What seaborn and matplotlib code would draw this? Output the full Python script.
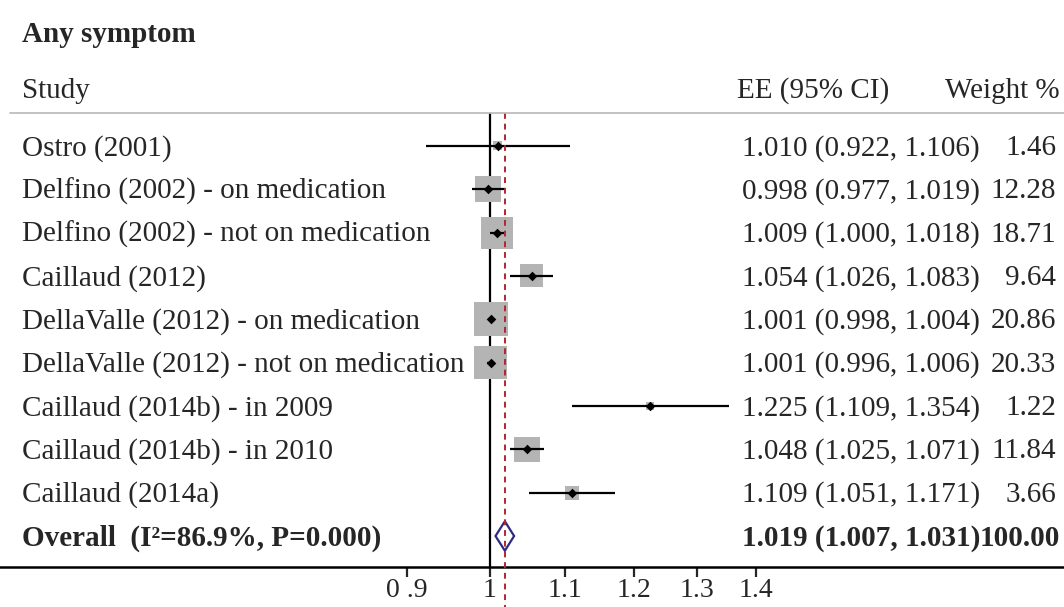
import numpy as np
import matplotlib
matplotlib.use("Agg")
import matplotlib.pyplot as plt
import matplotlib.transforms as mtrans
from matplotlib.lines import Line2D
import seaborn as sns

studies = ["Ostro (2001)", "Delfino (2002) - on medication", "Delfino (2002) - not on medication",
           "Caillaud (2012)", "DellaValle (2012) - on medication", "DellaValle (2012) - not on medication",
           "Caillaud (2014b) - in 2009", "Caillaud (2014b) - in 2010", "Caillaud (2014a)"]
ee = [1.010, 0.998, 1.009, 1.054, 1.001, 1.001, 1.225, 1.048, 1.109]
lower = [0.922, 0.977, 1.000, 1.026, 0.998, 0.996, 1.109, 1.025, 1.051]
upper = [1.106, 1.019, 1.018, 1.083, 1.004, 1.006, 1.354, 1.071, 1.171]
weights = [1.46, 12.28, 18.71, 9.64, 20.86, 20.33, 1.22, 11.84, 3.66]
overall = (1.019, 1.007, 1.031)
overall_label = "Overall  (I²=86.9%, P=0.000)"
tick_vals = [0.9, 1.0, 1.1, 1.2, 1.3, 1.4]
tick_labels = ["0 .9", "1", "1.1", "1.2", "1.3", "1.4"]

sns.set_style("white")
plt.rcParams["font.family"] = ["Liberation Serif", "DejaVu Serif"]
FS = 21

W, H = 1064, 607
fig = plt.figure(figsize=(W / 100, H / 100), dpi=100)
# axes spans full width, from header line to axis line
ax = fig.add_axes([0, 1 - 567 / H, 1, (567 - 113) / H])
ax.set_xscale("log")
ax.set_xlim(np.exp(-490 / 790), np.exp(574 / 790))
ax.set_ylim(9.715, -0.76)

rows = np.arange(len(studies))

# weight squares
sns.scatterplot(x=ee, y=rows, size=weights, sizes=(0, 2840), size_norm=(0, 100),
                marker="s", color="#b4b4b4", linewidth=0, legend=False, ax=ax, zorder=2)
ax.hlines(rows, lower, upper, color="black", lw=1.6, zorder=3)
sns.scatterplot(x=ee, y=rows, marker="D", s=24, color="black", linewidth=0,
                legend=False, ax=ax, zorder=4)

# overall diamond
o_est, o_lo, o_hi = overall
yo = len(studies)
h = 0.34
ax.fill([o_lo, o_est, o_hi, o_est], [yo, yo - h, yo, yo + h], facecolor="none",
        edgecolor="#2e2a7e", lw=1.6, zorder=4)

ax.axvline(1, color="black", lw=1.6, zorder=1)
ax.plot([o_est, o_est], [-0.76, 10.65], color="#b0282d", lw=1.4, ls=(0, (3, 2.5)),
        clip_on=False, zorder=5)

for s in ["top", "left", "right"]:
    ax.spines[s].set_visible(False)
ax.spines["bottom"].set_linewidth(1.8)
ax.spines["bottom"].set_color("black")
ax.set_yticks([])
ax.set_xticks(tick_vals)
ax.set_xticks([], minor=True)
ax.set_xticklabels(tick_labels, fontsize=20)
ax.tick_params(axis="x", direction="out", length=7, width=1.6, pad=1, bottom=True)

# header line
fig.add_artist(Line2D([10 / W, 1], [1 - 113 / H, 1 - 113 / H], color="#b8b8b8", lw=1.2))

fig.text(22 / W, 1 - 34 / H, "Any symptom", fontsize=FS, fontweight="bold", va="center")
fig.text(22 / W, 1 - 91 / H, "Study", fontsize=FS, va="center")
fig.text(737 / W, 1 - 91 / H, "EE (95% CI)", fontsize=FS, va="center")
fig.text(1060 / W, 1 - 91 / H, "Weight %", fontsize=FS, va="center", ha="right")

tr = mtrans.blended_transform_factory(fig.transFigure, ax.transData)
dy = 0.05
for i, name in enumerate(studies):
    ax.text(22 / W, i + dy, name, transform=tr, fontsize=FS, va="center", clip_on=False)
    ax.text(742 / W, i + dy, f"{ee[i]:.3f} ({lower[i]:.3f}, {upper[i]:.3f})", transform=tr,
            fontsize=FS, va="center", clip_on=False)
    ax.text(1056 / W, i + dy, f"{weights[i]:.2f}", transform=tr, fontsize=FS, va="center",
            ha="right", clip_on=False)

ax.text(22 / W, yo + dy, overall_label, transform=tr, fontsize=FS, fontweight="bold", va="center")
ax.text(742 / W, yo + dy, f"{o_est:.3f} ({o_lo:.3f}, {o_hi:.3f})", transform=tr, fontsize=FS,
        fontweight="bold", va="center")
ax.text(1060 / W, yo + dy, f"{sum(weights):.2f}", transform=tr, fontsize=FS, fontweight="bold",
        va="center", ha="right")

fig.savefig("out.png", dpi=100)
